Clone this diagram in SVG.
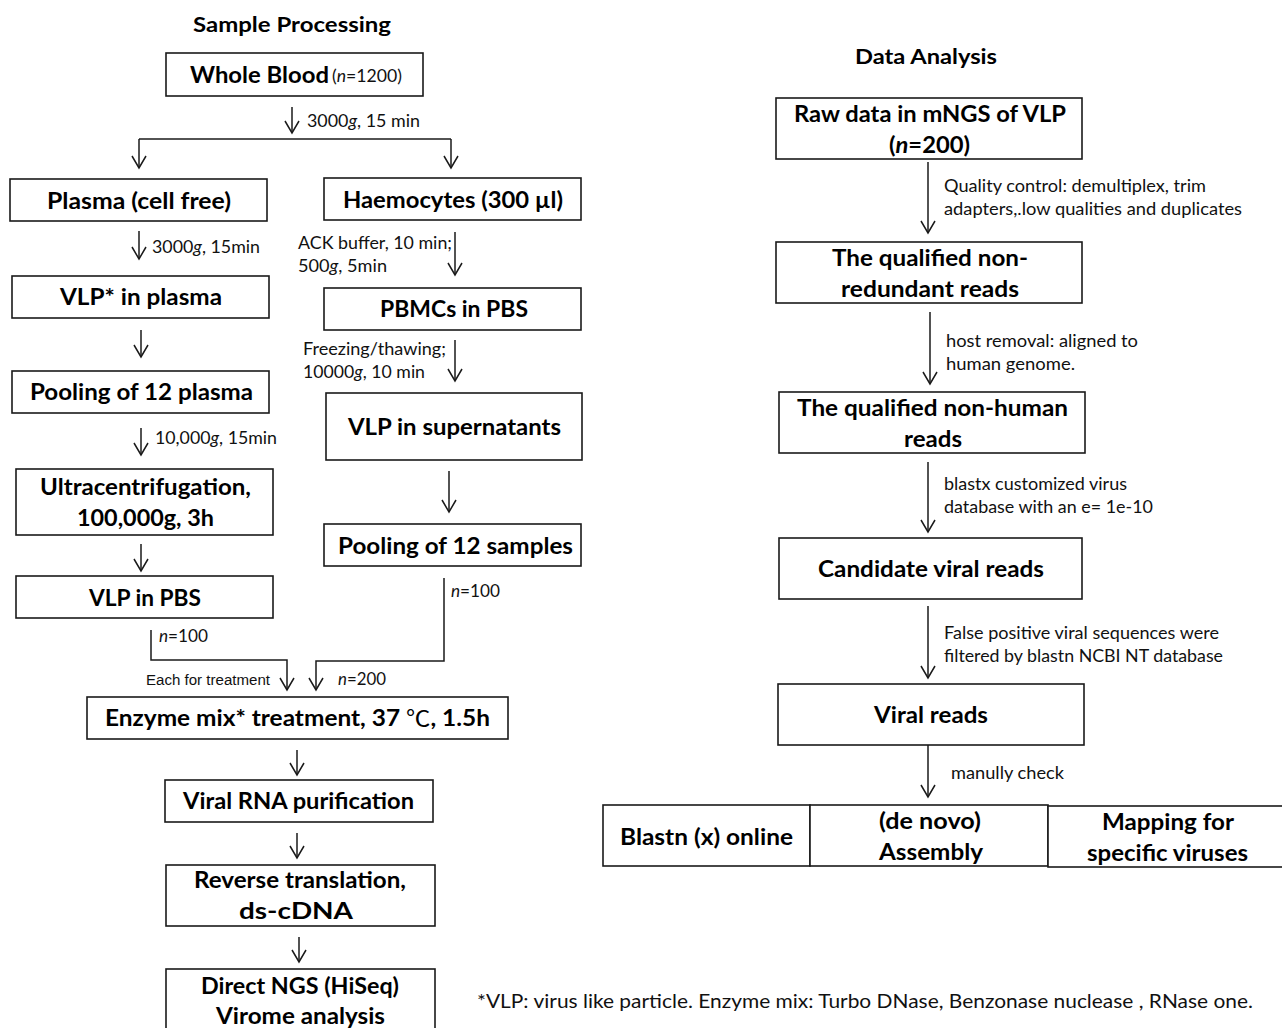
<svg xmlns="http://www.w3.org/2000/svg" width="1282" height="1028" viewBox="0 0 1282 1028">
<style>
.box{fill:#fff;stroke:#1a1a1a;stroke-width:1.6}
.t{font-family:Lato,"Open Sans","DejaVu Sans",sans-serif;font-weight:bold;font-size:22px;fill:#000}
.h{font-family:Lato,"Open Sans","DejaVu Sans",sans-serif;font-weight:bold;font-size:21px;fill:#000}
.a{font-family:Lato,"Open Sans","DejaVu Sans",sans-serif;font-size:16.5px;fill:#111}
.s{font-family:"Liberation Sans",Arial,sans-serif;font-size:14px;fill:#111}
.f{font-family:Lato,"Open Sans","DejaVu Sans",sans-serif;font-size:20px;fill:#111}
.c{fill:none;stroke:#1a1a1a;stroke-width:1.5}
.ar{marker-end:url(#ah)}
</style>
<defs>
<marker id="ah" markerUnits="userSpaceOnUse" viewBox="-14 -9 16 18" refX="0" refY="0" markerWidth="16" markerHeight="18" orient="auto">
<path d="M-12,-7 L0,0 L-12,7" fill="none" stroke="#1a1a1a" stroke-width="1.5"/>
</marker>
</defs>
<rect width="1282" height="1028" fill="#fff"/>

<g id="titles">
<text class="h" x="193" y="32" textLength="198" lengthAdjust="spacingAndGlyphs">Sample Processing</text>
<text class="h" x="855" y="64" textLength="142" lengthAdjust="spacingAndGlyphs">Data Analysis</text>
</g>

<g id="connectors">
<path class="c ar" d="M292,107 V133"/>
<path class="c" d="M139,139 H451"/>
<path class="c ar" d="M139,139 V168"/>
<path class="c ar" d="M451,139 V168"/>
<path class="c ar" d="M139,231 V259"/>
<path class="c ar" d="M455,232 V275"/>
<path class="c ar" d="M141,330 V357"/>
<path class="c ar" d="M455,340 V381"/>
<path class="c ar" d="M141,428 V455"/>
<path class="c ar" d="M449,471 V512"/>
<path class="c ar" d="M141,544 V571"/>
<path class="c ar" d="M151,630 V660 H287 V690"/>
<path class="c ar" d="M444,578 V661 H316 V690"/>
<path class="c ar" d="M297,750 V775"/>
<path class="c ar" d="M297,833 V858"/>
<path class="c ar" d="M299,937 V962"/>
<path class="c ar" d="M928,162 V233"/>
<path class="c ar" d="M930,312 V384"/>
<path class="c ar" d="M928,462 V532"/>
<path class="c ar" d="M928,606 V678"/>
<path class="c ar" d="M928,745 V797"/>
</g>

<g id="edge-labels">
<text class="a" x="307" y="127" textLength="113" lengthAdjust="spacingAndGlyphs">3000<tspan font-style="italic">g</tspan>, 15 min</text>
<text class="a" x="152" y="253" textLength="108" lengthAdjust="spacingAndGlyphs">3000<tspan font-style="italic">g</tspan>, 15min</text>
<text class="a" x="298" y="249" textLength="154" lengthAdjust="spacingAndGlyphs">ACK buffer, 10 min;</text>
<text class="a" x="298" y="272" textLength="89" lengthAdjust="spacingAndGlyphs">500<tspan font-style="italic">g</tspan>, 5min</text>
<text class="a" x="303" y="355" textLength="143" lengthAdjust="spacingAndGlyphs">Freezing/thawing;</text>
<text class="a" x="303" y="378" textLength="122" lengthAdjust="spacingAndGlyphs">10000<tspan font-style="italic">g</tspan>, 10 min</text>
<text class="a" x="155" y="444" textLength="122" lengthAdjust="spacingAndGlyphs">10,000<tspan font-style="italic">g</tspan>, 15min</text>
<text class="a" x="159" y="642" textLength="49" lengthAdjust="spacingAndGlyphs"><tspan font-style="italic">n</tspan>=100</text>
<text class="a" x="451" y="597" textLength="49" lengthAdjust="spacingAndGlyphs"><tspan font-style="italic">n</tspan>=100</text>
<text class="s" x="146" y="685" textLength="124" lengthAdjust="spacingAndGlyphs">Each for treatment</text>
<text class="a" x="338" y="685" textLength="48" lengthAdjust="spacingAndGlyphs"><tspan font-style="italic">n</tspan>=200</text>
<text class="a" x="944" y="192" textLength="262" lengthAdjust="spacingAndGlyphs">Quality control: demultiplex, trim</text>
<text class="a" x="944" y="215" textLength="298" lengthAdjust="spacingAndGlyphs">adapters,.low qualities and duplicates</text>
<text class="a" x="946" y="347" textLength="192" lengthAdjust="spacingAndGlyphs">host removal: aligned to</text>
<text class="a" x="946" y="370" textLength="129" lengthAdjust="spacingAndGlyphs">human genome.</text>
<text class="a" x="944" y="490" textLength="183" lengthAdjust="spacingAndGlyphs">blastx customized virus</text>
<text class="a" x="944" y="513" textLength="209" lengthAdjust="spacingAndGlyphs">database with an e= 1e-10</text>
<text class="a" x="944" y="639" textLength="275" lengthAdjust="spacingAndGlyphs">False positive viral sequences were</text>
<text class="a" x="944" y="662" textLength="279" lengthAdjust="spacingAndGlyphs">filtered by blastn NCBI NT database</text>
<text class="a" x="951" y="779" textLength="113" lengthAdjust="spacingAndGlyphs">manully check</text>
</g>

<g id="whole-blood">
<rect class="box" x="166" y="53" width="257" height="43"/>
<text class="t" x="190" y="83" textLength="139" lengthAdjust="spacingAndGlyphs">Whole Blood</text>
<text class="a" x="332" y="82" textLength="70" lengthAdjust="spacingAndGlyphs">(<tspan font-style="italic">n</tspan>=1200)</text>
</g>
<g id="plasma">
<rect class="box" x="10" y="179" width="257" height="42"/>
<text class="t" x="47" y="209" textLength="184" lengthAdjust="spacingAndGlyphs">Plasma (cell free)</text>
</g>
<g id="haemocytes">
<rect class="box" x="324" y="178" width="257" height="42"/>
<text class="t" x="343" y="208" textLength="220" lengthAdjust="spacingAndGlyphs">Haemocytes (300 µl)</text>
</g>
<g id="vlp-plasma">
<rect class="box" x="12" y="276" width="257" height="42"/>
<text class="t" x="60" y="305" textLength="162" lengthAdjust="spacingAndGlyphs">VLP* in plasma</text>
</g>
<g id="pbmcs">
<rect class="box" x="324" y="288" width="257" height="42"/>
<text class="t" x="380" y="317" textLength="148" lengthAdjust="spacingAndGlyphs">PBMCs in PBS</text>
</g>
<g id="pooling-plasma">
<rect class="box" x="12" y="371" width="257" height="42"/>
<text class="t" x="30" y="400" textLength="223" lengthAdjust="spacingAndGlyphs">Pooling of 12 plasma</text>
</g>
<g id="vlp-supernatants">
<rect class="box" x="326" y="393" width="256" height="67"/>
<text class="t" x="348" y="435" textLength="213" lengthAdjust="spacingAndGlyphs">VLP in supernatants</text>
</g>
<g id="ultracentrifugation">
<rect class="box" x="16" y="469" width="257" height="66"/>
<text class="t" x="40" y="495" textLength="211" lengthAdjust="spacingAndGlyphs">Ultracentrifugation,</text>
<text class="t" x="77" y="526" textLength="137" lengthAdjust="spacingAndGlyphs">100,000g, 3h</text>
</g>
<g id="pooling-samples">
<rect class="box" x="324" y="524" width="257" height="42"/>
<text class="t" x="338" y="554" textLength="235" lengthAdjust="spacingAndGlyphs">Pooling of 12 samples</text>
</g>
<g id="vlp-pbs">
<rect class="box" x="16" y="576" width="257" height="42"/>
<text class="t" x="89" y="606" textLength="112" lengthAdjust="spacingAndGlyphs">VLP in PBS</text>
</g>
<g id="enzyme">
<rect class="box" x="87" y="697" width="421" height="42"/>
<text class="t" x="105" y="726" textLength="385" lengthAdjust="spacingAndGlyphs">Enzyme mix* treatment, 37 <tspan font-weight="normal" font-family="'Noto Sans CJK SC',sans-serif">℃</tspan>, 1.5h</text>
</g>
<g id="rna-purification">
<rect class="box" x="165" y="780" width="268" height="42"/>
<text class="t" x="183" y="809" textLength="231" lengthAdjust="spacingAndGlyphs">Viral RNA purification</text>
</g>
<g id="reverse-translation">
<rect class="box" x="166" y="865" width="269" height="61"/>
<text class="t" x="194" y="888" textLength="212" lengthAdjust="spacingAndGlyphs">Reverse translation,</text>
<text class="t" x="239" y="919" textLength="114" lengthAdjust="spacingAndGlyphs">ds-cDNA</text>
</g>
<g id="direct-ngs">
<rect class="box" x="166" y="969" width="269" height="66"/>
<text class="t" x="201" y="994" textLength="198" lengthAdjust="spacingAndGlyphs">Direct NGS (HiSeq)</text>
<text class="t" x="216" y="1024" textLength="169" lengthAdjust="spacingAndGlyphs">Virome analysis</text>
</g>

<g id="raw-data">
<rect class="box" x="776" y="98" width="306" height="61"/>
<text class="t" x="794" y="122" textLength="272" lengthAdjust="spacingAndGlyphs">Raw data in mNGS of VLP</text>
<text class="t" x="889" y="153" textLength="81" lengthAdjust="spacingAndGlyphs">(<tspan font-style="italic">n</tspan>=200)</text>
</g>
<g id="non-redundant">
<rect class="box" x="776" y="242" width="306" height="61"/>
<text class="t" x="832" y="266" textLength="196" lengthAdjust="spacingAndGlyphs">The qualified non-</text>
<text class="t" x="841" y="297" textLength="178" lengthAdjust="spacingAndGlyphs">redundant reads</text>
</g>
<g id="non-human">
<rect class="box" x="779" y="392" width="306" height="61"/>
<text class="t" x="797" y="416" textLength="271" lengthAdjust="spacingAndGlyphs">The qualified non-human</text>
<text class="t" x="904" y="447" textLength="58" lengthAdjust="spacingAndGlyphs">reads</text>
</g>
<g id="candidate">
<rect class="box" x="779" y="538" width="303" height="61"/>
<text class="t" x="818" y="577" textLength="226" lengthAdjust="spacingAndGlyphs">Candidate viral reads</text>
</g>
<g id="viral-reads">
<rect class="box" x="778" y="684" width="306" height="61"/>
<text class="t" x="874" y="723" textLength="114" lengthAdjust="spacingAndGlyphs">Viral reads</text>
</g>
<g id="blastn-online">
<rect class="box" x="603" y="805" width="207" height="61"/>
<text class="t" x="620" y="845" textLength="173" lengthAdjust="spacingAndGlyphs">Blastn (x) online</text>
</g>
<g id="assembly">
<rect class="box" x="810" y="805" width="238" height="61"/>
<text class="t" x="879" y="829" textLength="102" lengthAdjust="spacingAndGlyphs">(de novo)</text>
<text class="t" x="879" y="860" textLength="104" lengthAdjust="spacingAndGlyphs">Assembly</text>
</g>
<g id="mapping">
<rect class="box" x="1048" y="806" width="240" height="61"/>
<text class="t" x="1102" y="830" textLength="132" lengthAdjust="spacingAndGlyphs">Mapping for</text>
<text class="t" x="1087" y="861" textLength="161" lengthAdjust="spacingAndGlyphs">specific viruses</text>
</g>

<g id="footnote">
<text class="f" x="477" y="1008" textLength="776" lengthAdjust="spacingAndGlyphs">*VLP: virus like particle. Enzyme mix: Turbo DNase, Benzonase nuclease , RNase one.</text>
</g>
</svg>
